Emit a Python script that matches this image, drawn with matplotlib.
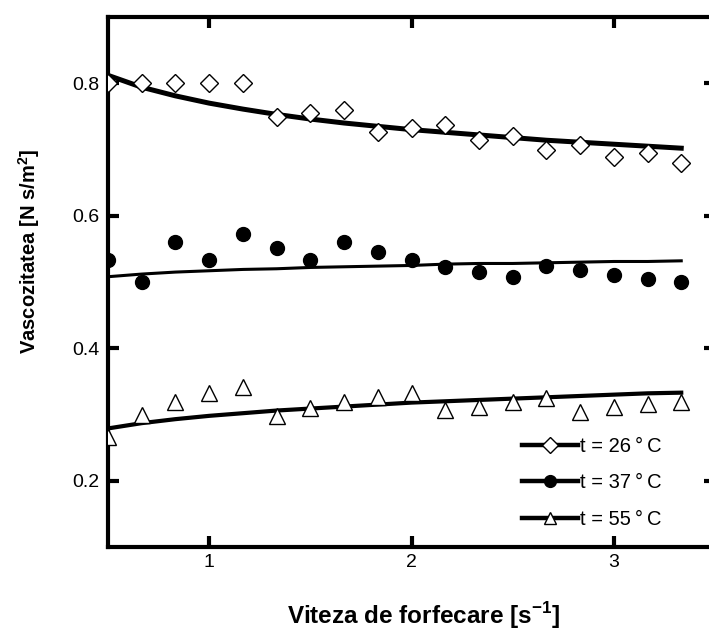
import matplotlib
matplotlib.use('Agg')
import matplotlib.pyplot as plt
from matplotlib.lines import Line2D

plt.rcParams['font.family'] = ['Liberation Sans', 'DejaVu Sans']
plt.rcParams['mathtext.fontset'] = 'custom'
plt.rcParams['mathtext.rm'] = 'Liberation Sans'
plt.rcParams['mathtext.bf'] = 'Liberation Sans:bold'

# shear rate [1/s]
shear = [0.5, 0.667, 0.833, 1.0, 1.167, 1.333, 1.5, 1.667, 1.833,
         2.0, 2.167, 2.333, 2.5, 2.667, 2.833, 3.0, 3.167, 3.333]

# measured viscosity
visc_26 = [0.800, 0.800, 0.800, 0.800, 0.800, 0.749, 0.755, 0.759, 0.726,
           0.732, 0.737, 0.714, 0.720, 0.699, 0.707, 0.689, 0.695, 0.680]
visc_37 = [0.533, 0.500, 0.560, 0.533, 0.572, 0.551, 0.533, 0.560, 0.546,
           0.533, 0.523, 0.515, 0.508, 0.524, 0.518, 0.511, 0.505, 0.500]
visc_55 = [0.266, 0.300, 0.319, 0.333, 0.342, 0.298, 0.310, 0.319, 0.327,
           0.333, 0.307, 0.312, 0.319, 0.325, 0.304, 0.312, 0.316, 0.319]

# fitted curves
fit_26 = [0.812, 0.794, 0.781, 0.770, 0.761, 0.753, 0.746, 0.740, 0.735,
          0.730, 0.726, 0.722, 0.718, 0.714, 0.711, 0.708, 0.705, 0.702]
fit_37 = [0.508, 0.512, 0.515, 0.517, 0.519, 0.520, 0.522, 0.523, 0.524,
          0.525, 0.527, 0.528, 0.528, 0.529, 0.530, 0.531, 0.531, 0.532]
fit_55 = [0.279, 0.287, 0.293, 0.298, 0.302, 0.306, 0.309, 0.312, 0.315,
          0.318, 0.320, 0.322, 0.324, 0.326, 0.328, 0.330, 0.332, 0.333]

labels = ['t = 26\u2009°\u2009C', 't = 37\u2009°\u2009C', 't = 55\u2009°\u2009C']

fig = plt.figure(figsize=(7.09, 6.30), dpi=100)
ax = fig.add_axes([0.1523, 0.1317, 0.8562, 0.8413])

ax.plot(shear, fit_26, color='k', lw=3.6, zorder=2)
ax.plot(shear, fit_37, color='k', lw=2.2, zorder=2)
ax.plot(shear, fit_55, color='k', lw=3.0, zorder=2)

ax.plot(shear, visc_26, ls='none', marker='D', ms=9.5, mfc='white', mec='k', mew=1.0, zorder=3)
ax.plot(shear, visc_37, ls='none', marker='o', ms=10, mfc='k', mec='k', zorder=3)
ax.plot(shear, visc_55, ls='none', marker='^', ms=11, mfc='white', mec='k', mew=1.0, zorder=3)

handles = [
    Line2D([], [], color='k', lw=3.2, marker='D', ms=8, mfc='white', mec='k', mew=1.0),
    Line2D([], [], color='k', lw=3.2, marker='o', ms=8.5, mfc='k', mec='k'),
    Line2D([], [], color='k', lw=3.2, marker='^', ms=9, mfc='white', mec='k', mew=1.0),
]
ax.legend(handles, labels, loc='upper left', bbox_to_anchor=(0.736, 0.3063),
          bbox_transform=fig.transFigure, borderpad=0, borderaxespad=0,
          frameon=False, fontsize=14.5, handlelength=2.8, handletextpad=0.1,
          labelspacing=0.86)

ax.set_xlim(0.5, 3.5)
ax.set_ylim(0.1, 0.9)
ax.set_xticks([1, 2, 3])
ax.set_yticks([0.2, 0.4, 0.6, 0.8])
ax.set_xticklabels(['1', '2', '3'], fontsize=14)
ax.set_yticklabels(['0.2', '0.4', '0.6', '0.8'], fontsize=14)

for s in ax.spines.values():
    s.set_linewidth(3)
ax.tick_params(direction='in', length=8, width=3, top=True, right=True)
ax.tick_params(axis='y', pad=6)
ax.tick_params(axis='x', pad=5)

ax.set_xlabel(r'Viteza de forfecare [s$^{\mathbf{-1}}$]', fontsize=17.5,
              fontweight='bold')
ax.set_ylabel(r'Vascozitatea [N s/m$^{\mathbf{2}}$]', fontsize=14.5,
              fontweight='bold')
ax.xaxis.set_label_coords(0.519, -0.101)
ax.yaxis.set_label_coords(-0.109, 0.557)

fig.savefig('out.png', dpi=100)
